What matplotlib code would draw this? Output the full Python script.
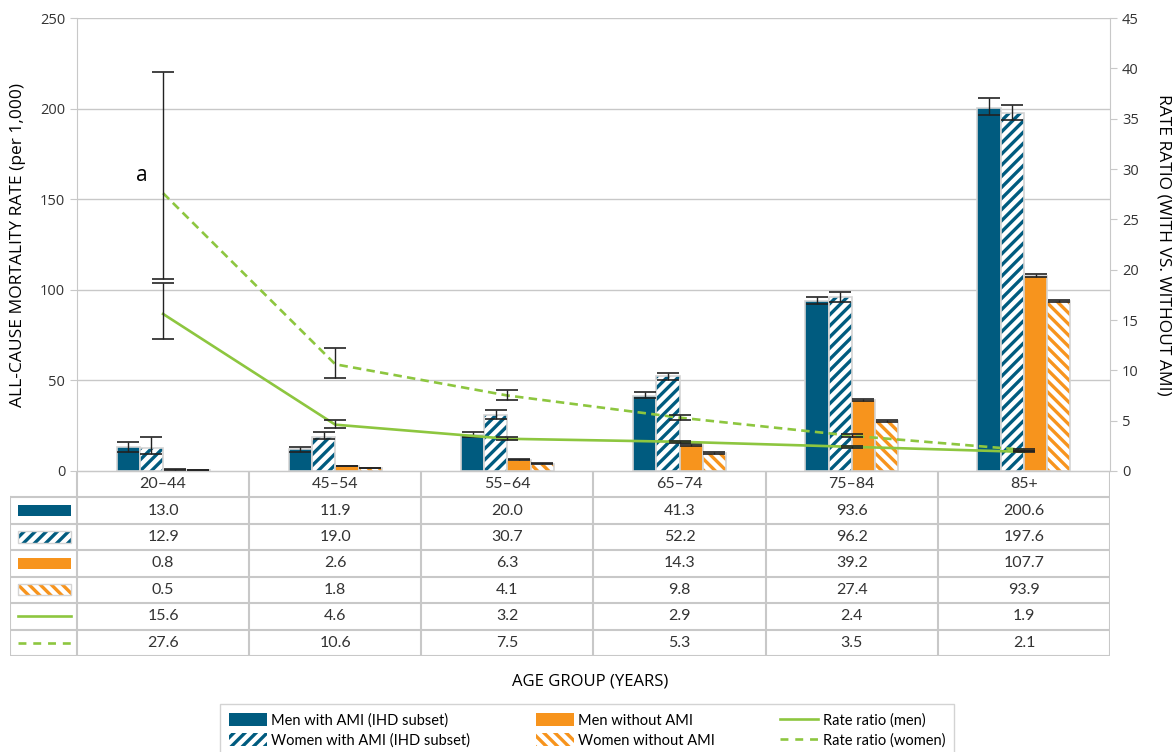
import numpy as np
import matplotlib.pyplot as plt
from matplotlib.patches import Rectangle, Patch
from matplotlib.lines import Line2D

# data
age_groups = ['20–44', '45–54', '55–64', '65–74', '75–84', '85+']

men_ami = [13.0, 11.9, 20.0, 41.3, 93.6, 200.6]
women_ami = [12.9, 19.0, 30.7, 52.2, 96.2, 197.6]
men_no_ami = [0.8, 2.6, 6.3, 14.3, 39.2, 107.7]
women_no_ami = [0.5, 1.8, 4.1, 9.8, 27.4, 93.9]
rr_men = [15.6, 4.6, 3.2, 2.9, 2.4, 1.9]
rr_women = [27.6, 10.6, 7.5, 5.3, 3.5, 2.1]

# confidence limits
men_ami_lo = [10.7, 10.7, 18.9, 40.5, 92.0, 196.5]
men_ami_hi = [16.2, 13.4, 21.5, 43.4, 96.2, 206.0]
women_ami_lo = [9.4, 17.5, 28.5, 50.1, 93.5, 193.6]
women_ami_hi = [18.9, 21.5, 33.7, 54.3, 99.0, 202.0]
men_no_lo = [0.7, 2.5, 6.1, 14.0, 38.6, 106.9]
men_no_hi = [0.9, 2.7, 6.5, 14.7, 39.8, 108.6]
women_no_lo = [0.4, 1.7, 3.9, 9.4, 27.0, 93.3]
women_no_hi = [0.6, 1.9, 4.3, 10.2, 27.9, 94.5]
rr_men_lo = [13.1, 4.3, 3.1, 2.8, 2.33, 1.85]
rr_men_hi = [18.7, 5.1, 3.4, 3.0, 2.45, 1.95]
rr_women_lo = [19.1, 9.2, 7.1, 5.1, 3.35, 2.0]
rr_women_hi = [39.6, 12.2, 8.0, 5.6, 3.65, 2.2]

labels = ['Men with AMI (IHD subset)', 'Women with AMI (IHD subset)',
          'Men without AMI', 'Women without AMI',
          'Rate ratio (men)', 'Rate ratio (women)']

teal = '#005b7f'
orange = '#f7941d'
green = '#8dc63f'
grid = '#c8c8c8'
txt = '#333333'

plt.rcParams['font.family'] = ['Open Sans', 'DejaVu Sans']
plt.rcParams['hatch.linewidth'] = 2.4

fig = plt.figure(figsize=(11.74, 7.52), dpi=100)
ax = fig.add_axes([0.0656, 0.3737, 0.8799, 0.6023])

x = np.arange(len(age_groups))
w = 0.135
series = [
    (men_ami, men_ami_lo, men_ami_hi, teal, None),
    (women_ami, women_ami_lo, women_ami_hi, teal, '///'),
    (men_no_ami, men_no_lo, men_no_hi, orange, None),
    (women_no_ami, women_no_lo, women_no_hi, orange, '\\\\\\'),
]
for i, (vals, lo, hi, col, hatch) in enumerate(series):
    pos = x + (i - 1.5) * w
    vals = np.array(vals)
    if hatch:
        ax.bar(pos, vals, w, color='white', edgecolor=col, hatch=hatch,
               linewidth=0, zorder=2)
    else:
        ax.bar(pos, vals, w, color=col, linewidth=0, zorder=2)
    ax.bar(pos, vals, w, fill=False, edgecolor='#d4d4d4', linewidth=1.2, zorder=2)
    ax.errorbar(pos, vals, yerr=[vals - np.array(lo), np.array(hi) - vals],
                fmt='none', ecolor='#222222', elinewidth=1, capsize=8,
                capthick=1.2, zorder=3)

ax.set_xlim(-0.5, 5.5)
ax.set_ylim(0, 250)
ax.set_yticks(range(0, 251, 50))
ax.yaxis.grid(True, color=grid, linewidth=1)
ax.set_axisbelow(True)
for s in ['top', 'right']:
    ax.spines[s].set_visible(False)
ax.spines['left'].set_color(grid)
ax.spines['bottom'].set_color(grid)
ax.tick_params(axis='y', length=5, color=grid, labelsize=10.5, labelcolor=txt)
ax.tick_params(axis='x', bottom=False, labelbottom=False)
ax.set_ylabel('ALL-CAUSE MORTALITY RATE (per 1,000)', fontsize=12.5,
              color='black', labelpad=10)

ax2 = ax.twinx()
ax2.set_ylim(0, 45)
ax2.set_yticks(range(0, 46, 5))
for s in ['top', 'left', 'bottom']:
    ax2.spines[s].set_visible(False)
ax2.spines['right'].set_color(grid)
ax2.tick_params(axis='y', length=5, color=grid, labelsize=10.5, labelcolor=txt)
dash = (0, (3.2, 2.0))
ax2.plot(x, rr_men, color=green, lw=1.9, zorder=4)
ax2.plot(x, rr_women, color=green, lw=1.9, ls=dash, zorder=4)
for vals, lo, hi in [(rr_men, rr_men_lo, rr_men_hi), (rr_women, rr_women_lo, rr_women_hi)]:
    vals = np.array(vals)
    ax2.errorbar(x, vals, yerr=[vals - np.array(lo), np.array(hi) - vals],
                 fmt='none', ecolor='#222222', elinewidth=1, capsize=8,
                 capthick=1.2, zorder=5)
ax2.set_ylabel('RATE RATIO (WITH VS. WITHOUT AMI)', fontsize=12.5, rotation=270,
               va='bottom', labelpad=12)
ax2.text(-0.09, 29.4, 'a', fontsize=15, ha='right', va='center')
ax2.set_xlim(-0.5, 5.5)

# data table below the chart
tab = fig.add_axes([0.0085, 0.1277, 0.9370, 0.2460])
left = -0.5 - 67 / 172.17
tab.set_xlim(left, 5.5)
tab.set_ylim(7, 0)
tab.axis('off')
nrows = 7
tab.plot([-0.5, 5.5], [0, 0], color=grid, lw=1)
for r in range(1, nrows + 1):
    tab.plot([left, 5.5], [r, r], color=grid, lw=1.5)
tab.plot([left, left], [1, 7], color=grid, lw=1.5)
for k in range(7):
    tab.plot([k - 0.5, k - 0.5], [0, 7], color=grid, lw=1.5)
for i, g in enumerate(age_groups):
    tab.text(i, 0.5, g, ha='center', va='center', fontsize=11.5,
             family=['Lato', 'DejaVu Sans'], color=txt)
rows = [men_ami, women_ami, men_no_ami, women_no_ami, rr_men, rr_women]
for r, vals in enumerate(rows):
    for i, v in enumerate(vals):
        tab.text(i, r + 1.5, f'{v:.1f}', ha='center', va='center', fontsize=11.5,
                 family=['Lato', 'DejaVu Sans'], color=txt)

sx0, sx1 = left + 8 / 172.17, left + 61 / 172.17
swatches = [(teal, teal, None), ('white', teal, '///'),
            (orange, orange, None), ('white', orange, '\\\\\\')]
for r, (fc, ec, h) in enumerate(swatches):
    tab.add_patch(Rectangle((sx0, r + 1.5 - 0.21), sx1 - sx0, 0.42, facecolor=fc,
                            edgecolor=ec, hatch=h, linewidth=0))
    if h:
        tab.add_patch(Rectangle((sx0, r + 1.5 - 0.21), sx1 - sx0, 0.42, fill=False,
                                edgecolor='#d4d4d4', linewidth=1))
tab.plot([sx0, sx1], [5.5, 5.5], color=green, lw=1.9)
tab.plot([sx0, sx1], [6.5, 6.5], color=green, lw=1.9, ls=(0, (3.0, 2.6)))

fig.text(590 / 1174, 1 - 681 / 752, 'AGE GROUP (YEARS)', ha='center', va='center',
         fontsize=12)

handles = [
    Patch(facecolor=teal, edgecolor=teal, linewidth=0),
    Patch(facecolor='white', edgecolor=teal, hatch='///', linewidth=0),
    Patch(facecolor=orange, edgecolor=orange, linewidth=0),
    Patch(facecolor='white', edgecolor=orange, hatch='\\\\\\', linewidth=0),
    Line2D([], [], color=green, lw=1.9),
    Line2D([], [], color=green, lw=1.9, ls=(0, (3.0, 2.6))),
]
fig.legend(handles, labels, ncol=3, loc='upper center',
           bbox_to_anchor=(587 / 1174, 1 - 697 / 752), frameon=True,
           fancybox=False, edgecolor=grid,
           prop={'family': ['Lato', 'DejaVu Sans'], 'size': 10.5},
           handlelength=2.6, handleheight=1.0, columnspacing=4.5,
           labelspacing=0.4, borderpad=0.6, handletextpad=0.3)

fig.savefig('out.png', dpi=100)
